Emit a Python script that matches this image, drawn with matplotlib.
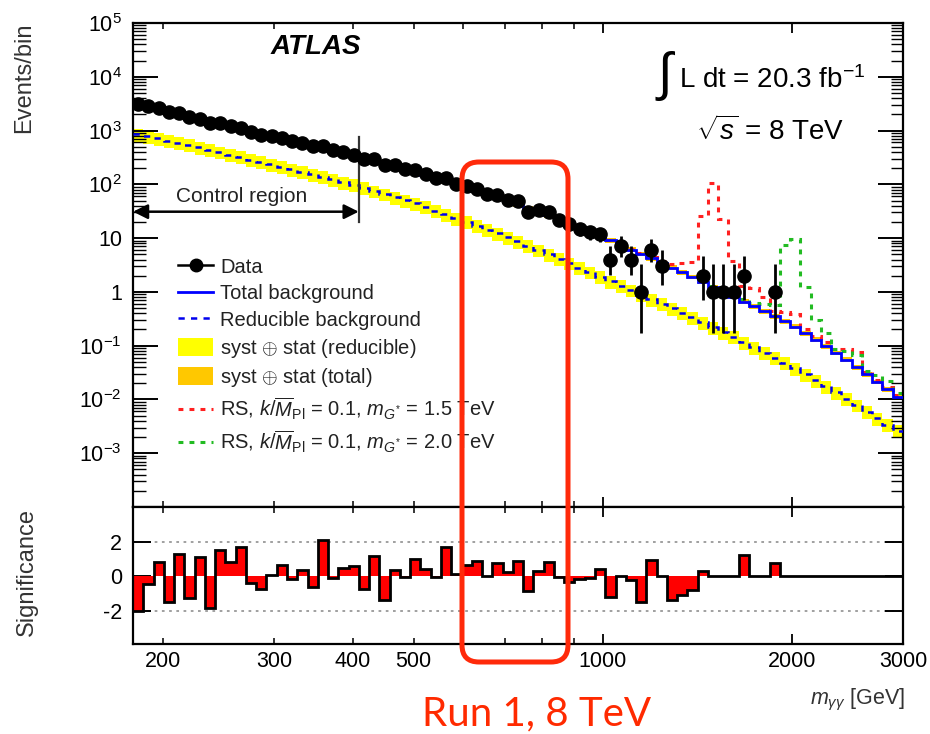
import numpy as np
import matplotlib
matplotlib.use("Agg")
import matplotlib.pyplot as plt
from matplotlib.patches import FancyBboxPatch, Patch
from matplotlib.lines import Line2D
from matplotlib.ticker import FixedLocator, FixedFormatter, NullFormatter, LogLocator

plt.rcParams['font.family'] = ['Liberation Sans', 'DejaVu Sans']
plt.rcParams['mathtext.fontset'] = 'custom'
plt.rcParams['mathtext.rm'] = 'Liberation Sans'
plt.rcParams['mathtext.it'] = 'Liberation Sans:italic'
plt.rcParams['mathtext.bf'] = 'Liberation Sans:bold'

# ---------------- data ----------------
m_min, m_max, n_bins = 179.0, 3000.0, 75          # log-uniform binning in m_gg
bin_edges = np.geomspace(m_min, m_max, n_bins + 1)

data_counts = [3064, 2816, 2584, 2206, 2096, 1760, 1673, 1392, 1368, 1210, 1121, 946,
               843, 786, 727, 640, 592, 514, 525, 429, 396, 358,
               298, 297, 226, 225, 195, 188, 156, 132, 133, 101,
               92, 83, 65, 62, 51, 48, 31, 33, 30, 22,
               18, 15, 13, 12, 4, 7, 4, 1, 6, 3,
               0, 0, 0, 2, 1, 1, 1, 2, 0, 0, 1,
               0, 0, 0, 0, 0, 0, 0, 0, 0, 0, 0, 0]

total_bkg = [3177, 2840, 2541, 2275, 2037, 1813, 1629, 1463, 1314, 1181, 1066, 958,
             865, 784, 710, 644, 583, 528, 479, 430, 387, 347,
             311, 277, 247, 220, 196, 175, 151, 132, 115, 99.5,
             86.5, 75.0, 65.0, 56.6, 49.1, 42.5, 36.2, 31.0, 26.4, 22.5,
             19.1, 15.9, 13.2, 10.9, 9.06, 7.44, 6.14, 5.06, 4.18, 3.44,
             2.82, 2.30, 1.89, 1.53, 1.24, 1.01, 0.815, 0.661, 0.536, 0.434,
             0.351, 0.284, 0.226, 0.171, 0.129, 0.0975, 0.0735, 0.0550, 0.0400, 0.0292,
             0.0213, 0.0155, 0.0113]

reducible_bkg = [853, 780, 713, 652, 596, 545, 491, 442, 397, 358, 322, 289,
                 260, 234, 211, 190, 171, 153, 138, 123, 109, 97,
                 85.3, 74.8, 65.8, 57.6, 50.4, 44.4, 37.8, 32.3, 27.6, 23.5,
                 20.1, 17.0, 14.4, 12.2, 10.3, 8.65, 7.19, 5.98, 4.98, 4.14,
                 3.43, 2.83, 2.33, 1.92, 1.58, 1.30, 1.08, 0.887, 0.728, 0.601,
                 0.495, 0.409, 0.336, 0.272, 0.220, 0.178, 0.1445, 0.116, 0.0929, 0.0744,
                 0.0593, 0.0475, 0.0377, 0.0292, 0.0226, 0.0175, 0.0136, 0.0104, 0.00784, 0.00591,
                 0.00448, 0.00337, 0.00263]

reducible_rel_unc = 0.27
total_rel_unc = 0.10

# signal + background, shown from a first bin onwards
rs15_first_bin = 46
rs15_sb = [9.2, 7.6, 6.3, 5.3, 4.5, 3.8, 3.3, 3.4, 3.6, 26, 105, 23, 3.7, 1.3, 1.2,
           0.8, 0.45, 0.42, 0.38, 0.2, 0.15, 0.115, 0.085, 0.085, 0.075, 0.032, 0.023,
           0.017, 0.012]
rs20_first_bin = 56
rs20_sb = [1.3, 1.08, 0.9, 0.75, 0.63, 0.6, 0.58, 7.4, 9.5, 1.25, 0.30, 0.17, 0.085,
           0.08, 0.068, 0.034, 0.028, 0.022, 0.013]

significance = [-2.0, -0.45, 0.85, -1.45, 1.3, -1.25, 1.1, -1.85, 1.5, 0.85, 1.7, -0.4,
                -0.75, 0.08, 0.65, -0.15, 0.37, -0.6, 2.1, -0.07, 0.47, 0.6,
                -0.75, 1.2, -1.35, 0.37, -0.05, 1.0, 0.4, -0.03, 1.7, 0.15,
                0.65, 0.88, 0.05, 0.75, 0.28, 0.9, -0.85, 0.3, 0.8, -0.02,
                -0.3, -0.18, -0.12, 0.43, -1.2, 0.0, -0.2, -1.5, 0.92, 0.0,
                -1.35, -1.1, -0.8, 0.3, 0.0, 0.0, 0.0, 1.25, 0.0, 0.0, 0.78,
                0, 0, 0, 0, 0, 0, 0, 0, 0, 0, 0, 0]

# 68% Poisson intervals for small counts
poisson_int = {1: (0.173, 3.300), 2: (0.708, 4.638), 3: (1.367, 5.918), 4: (2.086, 7.163),
               5: (2.840, 8.382), 6: (3.620, 9.584), 7: (4.419, 10.77)}

y_tick_vals = [1e-3, 1e-2, 1e-1, 1, 10, 1e2, 1e3, 1e4, 1e5]
y_tick_labels = [r'$10^{-3}$', r'$10^{-2}$', r'$10^{-1}$', '1', '10',
                 r'$10^{2}$', r'$10^{3}$', r'$10^{4}$', r'$10^{5}$']
x_major_ticks = [1000, 2000, 3000]
x_major_labels = ['1000', '2000', '3000']
x_minor_ticks = [200, 300, 400, 500, 600, 700, 800, 900]
x_minor_labels = ['200', '300', '400', '500', '', '', '', '']

# ---------------- figure ----------------
W, H = 930, 734
fig = plt.figure(figsize=(W / 100, H / 100), dpi=100)
ax = fig.add_axes([133 / W, 1 - 507 / H, 770 / W, 484 / H])
ax2 = fig.add_axes([133 / W, 1 - 644 / H, 770 / W, 137 / H], sharex=ax)

data_counts = np.array(data_counts, float)
total_bkg = np.array(total_bkg, float)
reducible_bkg = np.array(reducible_bkg, float)
centers = np.sqrt(bin_edges[:-1] * bin_edges[1:])

# bands
ax.stairs(reducible_bkg * (1 + reducible_rel_unc), bin_edges,
          baseline=reducible_bkg * (1 - reducible_rel_unc), fill=True,
          color='#ffff00', zorder=1)
ax.stairs(total_bkg * (1 + total_rel_unc), bin_edges,
          baseline=total_bkg * (1 - total_rel_unc), fill=True,
          color='#ffc800', zorder=1)
# reducible background
ax.stairs(reducible_bkg, bin_edges, baseline=None, color='#0000ee', lw=1.8,
          ls=(0, (2.5, 2.5)), zorder=3)
# signals
ax.stairs(rs15_sb, bin_edges[rs15_first_bin:rs15_first_bin + len(rs15_sb) + 1],
          baseline=None, color='#ff2020', lw=2.2, ls=(0, (1.6, 2.0)), zorder=2)
ax.stairs(rs20_sb, bin_edges[rs20_first_bin:rs20_first_bin + len(rs20_sb) + 1],
          baseline=None, color='#22bb22', lw=2.2, ls=(0, (1.6, 2.0)), zorder=2)
# total background
ax.stairs(total_bkg, bin_edges, baseline=None, color='#0000ff', lw=2.0, zorder=4)

# data
mask = data_counts > 0
n = data_counts[mask]
lo = np.array([v - poisson_int[int(v)][0] if v in poisson_int else np.sqrt(v) for v in n])
hi = np.array([poisson_int[int(v)][1] - v if v in poisson_int else np.sqrt(v) for v in n])
ax.errorbar(centers[mask], n, yerr=[lo, hi], fmt='o', color='black', ms=9.5,
            elinewidth=2.0, capsize=0, zorder=6)

ax.set_xscale('log')
ax.set_yscale('log')
ax.set_xlim(m_min, m_max)
ax.set_ylim(1e-4, 1e5)

# control region marker
ax.plot([409, 409], [20, 770], color='#333333', lw=1.6, zorder=5)
ax.annotate('', xy=(m_min, 31), xytext=(409, 31),
            arrowprops=dict(arrowstyle='<|-|>', color='black', lw=1.8,
                            mutation_scale=22, shrinkA=0, shrinkB=0), zorder=5)
ax.text((242 - 133) / 770, 1 - (196 - 23) / 484, 'Control region', transform=ax.transAxes,
        ha='center', va='center', fontsize=15, color='#222222')

ax.text((316 - 133) / 770, 1 - (47 - 23) / 484, 'ATLAS', transform=ax.transAxes,
        ha='center', va='center', fontsize=20, fontweight='bold', fontstyle='italic')

# ticks main
for a in (ax, ax2):
    a.xaxis.set_major_locator(FixedLocator(x_major_ticks))
    a.xaxis.set_minor_locator(FixedLocator(x_minor_ticks))
ax2.xaxis.set_major_formatter(FixedFormatter(x_major_labels))
ax2.xaxis.set_minor_formatter(FixedFormatter(x_minor_labels))
ax.yaxis.set_major_locator(FixedLocator(y_tick_vals))
ax.yaxis.set_major_formatter(FixedFormatter(y_tick_labels))
ax.yaxis.set_minor_locator(LogLocator(base=10, subs=np.arange(2, 10), numticks=20))
ax.yaxis.set_minor_formatter(NullFormatter())

ax.tick_params(axis='x', which='major', direction='in', top=True, bottom=True,
               length=7, width=1.3, labelbottom=False)
ax.tick_params(axis='x', which='minor', direction='in', top=True, bottom=True,
               length=4, width=1.1, labelbottom=False)
ax.tick_params(axis='y', which='major', direction='in', left=True, right=True,
               length=18, width=1.4, labelsize=15.5, pad=8)
ax.tick_params(axis='y', which='minor', direction='in', left=True, right=True,
               length=9, width=1.0)

for s in ax.spines.values():
    s.set_linewidth(1.6)

# ---------------- significance panel ----------------
ax2.stairs(significance, bin_edges, baseline=0, fill=True, color='#ff0000', zorder=2)
ax2.stairs(significance, bin_edges, baseline=None, color='black', lw=2.0, zorder=3)
for yv in (2, -2):
    ax2.axhline(yv, color='#999999', lw=1.3, ls=(0, (1.5, 2.5)), zorder=1)
ax2.set_ylim(-3.9, 4.0)
ax2.yaxis.set_major_locator(FixedLocator([-2, 0, 2]))
ax2.yaxis.set_major_formatter(FixedFormatter(['-2', '0', '2']))
ax2.tick_params(axis='y', which='major', direction='in', left=True, right=True,
                length=13, width=1.4, labelsize=15.5, pad=8)
ax2.tick_params(axis='x', which='major', direction='in', top=True, bottom=True,
                length=7, width=1.3, labelsize=15.5, pad=5)
ax2.tick_params(axis='x', which='minor', direction='in', top=True, bottom=True,
                length=4, width=1.1, labelsize=15.5, pad=5)
for s in ax2.spines.values():
    s.set_linewidth(1.6)

# ---------------- legend ----------------
handles = [
    Line2D([], [], color='black', marker='o', ms=9, lw=1.8),
    Line2D([], [], color='#0000ff', lw=2.0),
    Line2D([], [], color='#0000ee', lw=1.8, ls=(0, (2.5, 2.5))),
    Patch(facecolor='#ffff00', edgecolor='none'),
    Patch(facecolor='#ffc800', edgecolor='none'),
    Line2D([], [], color='#ff2020', lw=2.2, ls=(0, (1.6, 2.0))),
    Line2D([], [], color='#22bb22', lw=2.2, ls=(0, (1.6, 2.0))),
]
labels = ['Data', 'Total background', 'Reducible background',
          r'syst $\oplus$ stat (reducible)', r'syst $\oplus$ stat (total)',
          r'RS, $k/\overline{M}_{\rm Pl}$ = 0.1, $m_{G^{*}}$ = 1.5 TeV',
          r'RS, $k/\overline{M}_{\rm Pl}$ = 0.1, $m_{G^{*}}$ = 2.0 TeV']
leg = fig.legend(handles, labels, loc='upper left',
                 bbox_to_anchor=(178 / W, 1 - 257 / H), frameon=False,
                 fontsize=14.5, handlelength=1.75, handleheight=1.0,
                 handletextpad=0.35, labelspacing=0.33, borderpad=0, borderaxespad=0)
for t in leg.get_texts():
    t.set_color('#222222')

# ---------------- labels and annotations ----------------
fig.text(24 / W, 1 - 78 / H, 'Events/bin', rotation=90, ha='center', va='center',
         fontsize=17, color='#333333')
fig.text(27 / W, 1 - 572 / H, 'Significance', rotation=90, ha='center', va='center',
         fontsize=17, color='#333333')
fig.text(905 / W, 1 - 700 / H, r'$m_{\gamma\gamma}$ [GeV]', ha='right', va='center',
         fontsize=15.5, color='#333333')

fig.text(666 / W, 1 - 76 / H, r'$\int$', ha='center', va='center', fontsize=38)
fig.text(679 / W, 1 - 80 / H, r'L dt = 20.3 fb$^{-1}$', ha='left', va='center', fontsize=20)
fig.text(770 / W, 1 - 131 / H, r'$\sqrt{s}$ = 8 TeV', ha='center', va='center', fontsize=20)

fig.text(537 / W, 1 - 714 / H, 'Run 1, 8 TeV', ha='center', va='center',
         fontsize=29, color='#ff2a00', family=['Lato', 'DejaVu Sans'])

box = FancyBboxPatch((4.62, (H - 662) / 100), 1.06, 5.00,
                     boxstyle='round,pad=0,rounding_size=0.17',
                     transform=fig.dpi_scale_trans, facecolor='none',
                     edgecolor='#ff2a0a', lw=3.6, zorder=20, clip_on=False)
fig.add_artist(box)

fig.savefig('out.png', dpi=100)
